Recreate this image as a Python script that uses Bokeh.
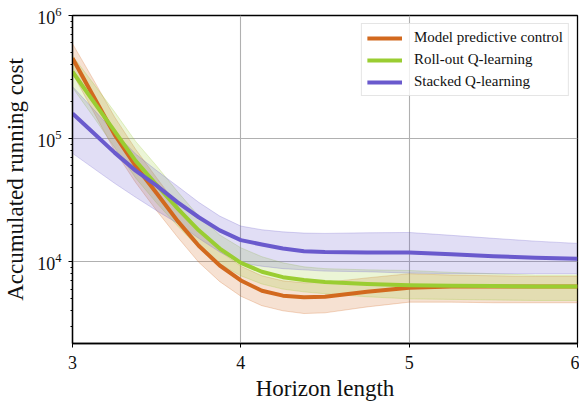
import numpy as np
from bokeh.plotting import figure
from bokeh.models import ColumnDataSource, Legend, LegendItem, FixedTicker, Range1d
from bokeh.embed import file_html
from bokeh.resources import INLINE

# Horizon length samples
horizon = [3.0, 3.125, 3.25, 3.375, 3.5, 3.625, 3.75, 3.875, 4.0, 4.125, 4.25,
           4.375, 4.5, 4.75, 5.0, 5.25, 5.5, 5.75, 6.0]

# Model predictive control
mpc_mean = [450000, 220000, 108000, 60000, 36000, 21400, 13500, 9330, 7050, 5820, 5310,
            5150, 5200, 5700, 6150, 6300, 6300, 6300, 6300]
mpc_upper = [590000, 300000, 150000, 82000, 48000, 28500, 17800, 12200, 9200, 7700, 7000,
             6750, 6800, 7400, 8000, 7800, 7700, 7600, 7600]
mpc_lower = [340000, 165000, 80000, 44000, 26000, 15800, 9900, 6900, 5250, 4400, 4000,
             3800, 3850, 4300, 4700, 4700, 4650, 4650, 4650]

# Roll-out Q-learning
rq_mean = [350000, 200000, 115000, 66000, 42000, 27000, 18000, 12800, 9800, 8300, 7500,
           7100, 6850, 6600, 6450, 6400, 6350, 6300, 6300]
rq_upper = [470000, 280000, 165000, 95000, 60000, 37000, 23500, 16500, 13000, 11000, 9800,
            9100, 8800, 8600, 8500, 8200, 8000, 7800, 7800]
rq_lower = [260000, 150000, 85000, 48000, 30000, 19500, 13000, 9600, 7700, 6600, 6000,
            5700, 5500, 5200, 5000, 4950, 4900, 4850, 4850]

# Stacked Q-learning
sq_mean = [160000, 111000, 77000, 55000, 41500, 30400, 23000, 18000, 15000, 13800, 12800,
           12200, 12000, 11900, 11900, 11500, 11100, 10800, 10600]
sq_upper = [265000, 173000, 112000, 75000, 55000, 41000, 30400, 23500, 19500, 18200, 17500,
            17100, 17000, 17200, 17300, 16400, 15500, 14700, 14100]
sq_lower = [76000, 57400, 43400, 33400, 26000, 20500, 15500, 12000, 9800, 9200, 8800,
            8600, 8400, 8300, 8100, 8000, 8000, 8000, 8000]

labels = ["Model predictive control", "Roll-out Q-learning", "Stacked Q-learning"]
colors = ["#D2691E", "#9ACD32", "#6A5ACD"]

x_ticks = [3, 4, 5, 6]
y_major = [1e4, 1e5, 1e6]
y_minor = [3e3, 4e3, 5e3, 6e3, 7e3, 8e3, 9e3,
           2e4, 3e4, 4e4, 5e4, 6e4, 7e4, 8e4, 9e4,
           2e5, 3e5, 4e5, 5e5, 6e5, 7e5, 8e5, 9e5]

LABEL_FONT = "Liberation Serif"
TEXT_FONT = "serif"

p = figure(frame_width=505, frame_height=328, x_range=Range1d(3, 6), y_range=Range1d(2170, 1e6),
           y_axis_type="log", output_backend="svg", toolbar_location=None,
           min_border_left=64, min_border_right=2, min_border_top=15, min_border_bottom=0)

p.xaxis.ticker = FixedTicker(ticks=x_ticks)
p.yaxis.ticker = FixedTicker(ticks=y_major, minor_ticks=y_minor)

for ax in (p.xaxis[0], p.yaxis[0]):
    ax.axis_line_color = "black"
    ax.axis_line_width = 1.3
    ax.major_tick_line_color = "black"
    ax.minor_tick_line_color = "black"
    ax.major_tick_in = 0
    ax.major_tick_out = 4
    ax.minor_tick_in = 0
    ax.minor_tick_out = 2
    ax.major_label_text_font = TEXT_FONT
    ax.major_label_text_font_size = "18px"
    ax.major_label_text_font_style = "normal"
    ax.major_label_text_color = "#111111"
    ax.axis_label_text_font = LABEL_FONT
    ax.axis_label_text_font_size = "23px"
    ax.axis_label_text_font_style = "normal"
    ax.axis_label_text_color = "#111111"

p.xaxis.axis_label = "Horizon length"
p.yaxis.axis_label = "Accumulated running cost"
p.xaxis.major_label_standoff = 8
p.yaxis.major_label_standoff = 7
p.xaxis.axis_label_standoff = 4
p.yaxis.axis_label_standoff = 6

p.outline_line_color = "black"
p.outline_line_width = 1.3
p.xgrid.grid_line_color = "#b0b0b0"
p.ygrid.grid_line_color = "#b0b0b0"
p.xgrid.grid_line_width = 1.1
p.ygrid.grid_line_width = 1.1

series = [(mpc_mean, mpc_lower, mpc_upper), (rq_mean, rq_lower, rq_upper), (sq_mean, sq_lower, sq_upper)]

for (m, lo, up), c in zip(series, colors):
    src = ColumnDataSource(dict(x=horizon, lo=lo, up=up))
    p.varea(x="x", y1="lo", y2="up", source=src, fill_color=c, fill_alpha=0.2)
    p.line(x="x", y="lo", source=src, line_color=c, line_alpha=0.25, line_width=1)
    p.line(x="x", y="up", source=src, line_color=c, line_alpha=0.25, line_width=1)

renderers = []
for (m, lo, up), c in zip(series, colors):
    src = ColumnDataSource(dict(x=horizon, y=m))
    r = p.line(x="x", y="y", source=src, line_color=c, line_width=4, line_join="round")
    renderers.append(r)

legend = Legend(items=[LegendItem(label=l, renderers=[r]) for l, r in zip(labels, renderers)],
                location="top_right")
legend.margin = 8
legend.padding = 5
legend.spacing = 5
legend.glyph_width = 35
legend.glyph_height = 16
legend.label_height = 16
legend.label_standoff = 12
legend.label_text_font = TEXT_FONT
legend.label_text_font_size = "15px"
legend.label_text_font_style = "normal"
legend.label_text_color = "#111111"
legend.border_line_color = "#cccccc"
legend.border_line_width = 1
legend.background_fill_alpha = 0.8
p.add_layout(legend)

open("out.html", "w").write(file_html(p, INLINE))
